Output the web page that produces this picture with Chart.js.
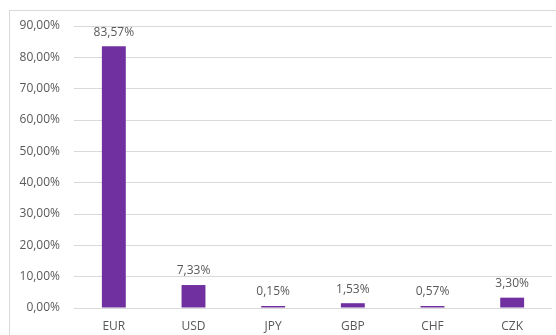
<!DOCTYPE html>
<html>
<head>
<meta charset="utf-8">
<script src="https://cdn.jsdelivr.net/npm/chart.js@4/dist/chart.umd.min.js"></script>
<style>
html,body{margin:0;padding:0;background:#fff;}
#wrap{width:556px;height:335px;position:relative;}
</style>
</head>
<body>
<div id="wrap"><canvas id="c" width="556" height="335"></canvas></div>
<script>
const categories = ["EUR", "USD", "JPY", "GBP", "CHF", "CZK"];
const shares = [83.57, 7.33, 0.15, 1.53, 0.57, 3.30];
const yTickMax = 90;
const yTickStep = 10;

const FONT = "'Open Sans', 'Liberation Sans', sans-serif";
const TEXT = "#595959";

function pct(v){ return v.toFixed(2).replace('.', ',') + '%'; }

const frame = {
  id: 'frame',
  beforeDraw(chart){
    const ctx = chart.ctx;
    ctx.save();
    ctx.strokeStyle = '#d9d9d9';
    ctx.lineWidth = 1;
    ctx.strokeRect(9.5, 10.5, 600, 400);
    ctx.restore();
  }
};

const labels = {
  id: 'barLabels',
  afterDatasetsDraw(chart){
    const ctx = chart.ctx;
    const meta = chart.getDatasetMeta(0);
    ctx.save();
    ctx.font = "12px " + FONT;
    ctx.fillStyle = TEXT;
    ctx.textAlign = 'center';
    ctx.textBaseline = 'middle';
    meta.data.forEach((bar, i) => {
      ctx.fillText(pct(shares[i]), bar.x, bar.y - 14);
    });
    ctx.restore();
  }
};

new Chart(document.getElementById('c'), {
  type: 'bar',
  data: {
    labels: categories,
    datasets: [{
      data: shares,
      backgroundColor: '#7030a0',
      borderWidth: 0,
      minBarLength: 2,
      categoryPercentage: 1,
      barPercentage: 0.3
    }]
  },
  plugins: [frame, labels],
  options: {
    responsive: false,
    animation: false,
    devicePixelRatio: 1,
    layout: { padding: { top: 26, right: 4, bottom: 0, left: 0 } },
    plugins: { legend: { display: false }, tooltip: { enabled: false } },
    scales: {
      x: {
        grid: { display: false, drawTicks: false },
        border: { display: false },
        ticks: { color: TEXT, font: { family: FONT, size: 12 }, padding: 11 },
        afterFit(s){ s.height = 27; }
      },
      y: {
        min: 0, max: yTickMax,
        grid: { color: '#d9d9d9', drawTicks: false, lineWidth: 1 },
        border: { display: false },
        ticks: {
          stepSize: yTickStep,
          color: TEXT,
          font: { family: FONT, size: 12 },
          padding: 14,
          callback: v => pct(v)
        },
        afterFit(s){ s.width = 74; }
      }
    }
  }
});
</script>
</body>
</html>
